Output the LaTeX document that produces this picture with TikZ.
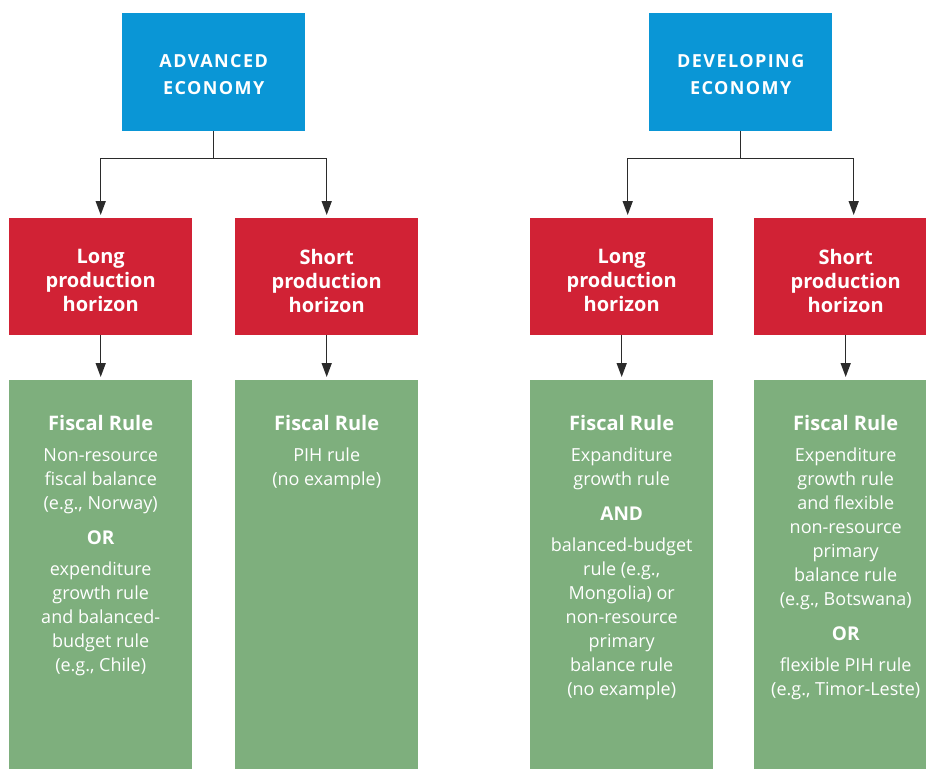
\documentclass[tikz,border=0pt]{standalone}
\usepackage{fontspec}
\setmainfont{Open Sans}
\usetikzlibrary{arrows.meta, positioning}
\definecolor{econblue}{HTML}{0A96D6}
\definecolor{horizonred}{HTML}{D12235}
\definecolor{rulegreen}{HTML}{7EAF7D}
\definecolor{linegray}{HTML}{2B2B2B}
\newcommand\rulehead{\fontsize{20}{24}\selectfont\bfseries}
\newcommand\ruleor{\fontsize{19}{24}\selectfont\bfseries}
\tikzset{
	econbox/.style = {fill = econblue, anchor = north west, minimum width = 183pt, minimum height = 118pt, inner sep = 0pt},
	econtext/.style = {inner sep = 0pt, text = white, align = center,
		font = \fontsize{18}{27}\selectfont\bfseries\addfontfeature{LetterSpace=8}},
	horizonbox/.style = {fill = horizonred, anchor = north west, minimum width = 183pt, minimum height = 117pt, inner sep = 0pt},
	horizontext/.style = {inner sep = 0pt, text = white, align = center, font = \fontsize{20}{24}\selectfont\bfseries},
	rulebox/.style = {fill = rulegreen, anchor = north west, minimum width = 183pt, minimum height = 389pt, inner sep = 0pt},
	ruletext/.style = {anchor = north, inner sep = 0pt, text = white, align = center, font = \fontsize{18}{24}\selectfont},
	link/.style = {line width = 1.5pt, draw = linegray},
	arr/.style = {link, -{Triangle[width=10pt, length=14pt]}, shorten > = 3pt}
}
\begin{document}
\begin{tikzpicture}[x = 1pt, y = -1pt]
			\useasboundingbox (0,0) rectangle (926,769);
			% economies
			\node[econbox] (adv) at (122,13) {};
			\node[econbox] (dev) at (649,13) {};
			\node[econtext] (advtxt) at ([yshift=-2pt]adv.center) {ADVANCED\\ECONOMY};
			\node[econtext] (devtxt) at ([yshift=-2pt]dev.center) {DEVELOPING\\ECONOMY};
			% production horizons
			\node[horizonbox] (advlong) at (9,218) {};
			\node[horizonbox] (advshort) at (235,218) {};
			\node[horizonbox] (devlong) at (530,218) {};
			\node[horizonbox] (devshort) at (754,218) {};
			\node[horizontext] (advlongtxt) at ([yshift=-4pt]advlong.center) {Long\\production\\horizon};
			\node[horizontext] (advshorttxt) at ([yshift=-4pt]advshort.center) {Short\\production\\horizon};
			\node[horizontext] (devlongtxt) at ([yshift=-4pt]devlong.center) {Long\\production\\horizon};
			\node[horizontext] (devshorttxt) at ([yshift=-4pt]devshort.center) {Short\\production\\horizon};
			% fiscal rules
			\node[rulebox] (advlongrule) at (9,380) {};
			\node[rulebox] (advshortrule) at (235,380) {};
			\node[rulebox] (devlongrule) at (530,380) {};
			\node[rulebox] (devshortrule) at (754,380) {};
			\node[ruletext] (advlongrtxt) at ([yshift=-35pt]advlongrule.north) {{\rulehead Fiscal Rule}\\[7pt]
				Non-resource\\fiscal balance\\(e.g., Norway)\\[11pt]{\ruleor OR}\\[7pt]
				expenditure\\growth rule\\and balanced-\\budget rule\\(e.g., Chile)};
			\node[ruletext] (advshortrtxt) at ([yshift=-35pt]advshortrule.north) {{\rulehead Fiscal Rule}\\[7pt]
				PIH rule\\(no example)};
			\node[ruletext] (devlongrtxt) at ([yshift=-35pt]devlongrule.north) {{\rulehead Fiscal Rule}\\[7pt]
				Expanditure\\growth rule\\[11pt]{\ruleor AND}\\[7pt]
				balanced-budget\\rule (e.g.,\\Mongolia) or\\non-resource\\primary\\balance rule\\(no example)};
			\node[ruletext] (devshortrtxt) at ([yshift=-35pt]devshortrule.north) {{\rulehead Fiscal Rule}\\[7pt]
				Expenditure\\growth rule\\and flexible\\non-resource\\primary\\balance rule\\(e.g., Botswana)\\[11pt]{\ruleor OR}\\[7pt]
				flexible PIH rule\\(e.g., Timor-Leste)};
			% connectors
			\draw [link] (adv.south) -- ++(0,27) coordinate (advfork);
			\draw [arr] (advfork) -| (advlong.north);
			\draw [arr] (advfork) -| (advshort.north);
			\draw [link] (dev.south) -- ++(0,27) coordinate (devfork);
			\draw [arr] (devfork) -| ([xshift=6pt]devlong.north);
			\draw [arr] (devfork) -| ([xshift=8pt]devshort.north);
			\draw [arr] (advlong) -- (advlongrule);
			\draw [arr] (advshort) -- (advshortrule);
			\draw [arr] (devlong) -- (devlongrule);
			\draw [arr] (devshort.south) -- (devshort.south |- devshortrule.north);
			\end{tikzpicture}
\end{document}
